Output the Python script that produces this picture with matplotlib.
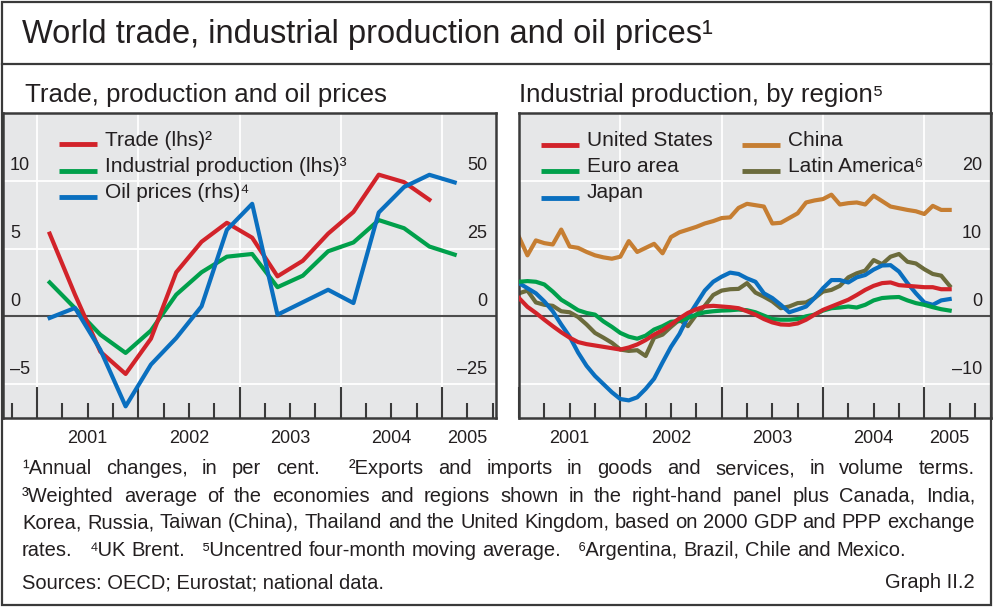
import numpy as np
import matplotlib
matplotlib.use("Agg")
import matplotlib.pyplot as plt
from matplotlib.patches import Rectangle
from matplotlib.lines import Line2D

plt.rcParams['font.family'] = ['Liberation Sans', 'DejaVu Sans']

# ---------------- data ----------------
# Left panel: quarterly, 2001Q1 .. 2005Q1 (annual changes, %)
quarters = ["2001Q1", "2001Q2", "2001Q3", "2001Q4", "2002Q1", "2002Q2", "2002Q3", "2002Q4",
            "2003Q1", "2003Q2", "2003Q3", "2003Q4", "2004Q1", "2004Q2", "2004Q3", "2004Q4", "2005Q1"]
trade = [6.1, 1.6, -2.6, -4.25, -1.65, 3.25, 5.5, 6.9, 5.8, 2.95, 4.1, 6.1, 7.7, 10.45, 9.9, 8.6]
ind_prod = [2.5, 0.6, -1.35, -2.7, -1.05, 1.6, 3.25, 4.4, 4.6, 2.15, 3.0, 4.8, 5.45, 7.1, 6.5, 5.15, 4.55]
oil = [-0.6, 3.1, -12.3, -33.2, -17.8, -8.0, 3.7, 31.9, 41.5, 0.6, 5.2, 9.8, 4.9, 38.3, 47.7, 52.2, 49.4]

# Right panel: monthly, Jan 2001 .. Apr 2005
months = [f"{y}-{m:02d}" for y in range(2001, 2006) for m in range(1, 13)][:52]
us = [2.7, 1.4, 0.5, -0.5, -1.45, -2.35, -3.15, -3.8, -4.1, -4.3, -4.5, -4.7,
      -4.9, -4.6, -4.15, -3.5, -2.7, -2.05, -1.2, -0.3, 0.5, 1.05, 1.45, 1.55,
      1.45, 1.35, 1.2, 0.75, 0.25, -0.4, -0.9, -1.2, -1.25, -1.05, -0.5, 0.25,
      0.95, 1.45, 1.95, 2.45, 3.15, 3.9, 4.5, 4.9, 5.0, 4.6, 4.5, 4.4,
      4.3, 4.3, 4.0, 4.0]
euro = [5.1, 5.2, 5.1, 4.7, 3.65, 2.45, 1.7, 0.9, 0.5, 0.25, -0.75, -1.55,
        -2.45, -3.0, -3.3, -2.85, -1.95, -1.45, -0.8, -0.7, -0.25, 0.25, 0.6, 0.75,
        0.85, 0.9, 1.0, 0.9, 0.6, 0.1, -0.4, -0.5, -0.5, -0.4, 0.0, 0.25,
        0.85, 1.2, 1.3, 1.45, 1.3, 1.7, 2.35, 2.7, 2.8, 2.85, 2.35, 1.95,
        1.7, 1.35, 1.05, 0.85]
japan = [4.9, 4.15, 3.4, 2.2, 0.75, -1.2, -3.0, -5.35, -7.3, -8.8, -10.0, -11.2,
         -12.2, -12.4, -11.95, -10.7, -9.2, -6.8, -4.5, -2.6, -0.1, 1.85, 3.8, 5.1,
         5.85, 6.45, 6.25, 5.6, 5.1, 3.4, 2.7, 1.7, 0.6, 1.0, 1.45, 2.7,
         4.15, 5.35, 5.35, 5.0, 5.75, 6.1, 6.9, 7.5, 7.55, 6.6, 4.9, 3.4,
         2.05, 1.7, 2.35, 2.55]
china = [11.7, 9.0, 11.2, 10.8, 10.6, 12.8, 10.3, 10.1, 9.5, 9.0, 8.7, 8.5,
         8.8, 11.1, 9.5, 10.1, 10.7, 9.3, 11.7, 12.4, 12.8, 13.2, 13.7, 14.05,
         14.5, 14.6, 16.0, 16.6, 16.4, 16.2, 13.7, 13.8, 14.5, 15.2, 16.8, 17.1,
         17.3, 17.95, 16.5, 16.7, 16.8, 16.5, 17.8, 17.0, 16.2, 15.95, 15.7, 15.5,
         15.1, 16.3, 15.7, 15.7]
latam = [3.4, 3.8, 2.05, 1.7, 1.55, 0.75, 0.6, -0.1, -1.2, -2.45, -3.15, -3.9,
         -4.9, -5.1, -5.0, -5.85, -3.15, -2.7, -1.55, -0.5, -1.45, 0.25, 1.55, 3.15,
         3.8, 4.0, 4.05, 4.9, 3.5, 2.9, 2.2, 1.2, 1.45, 1.95, 2.05, 2.7,
         3.65, 3.9, 4.5, 5.75, 6.35, 6.75, 8.3, 7.7, 8.8, 9.2, 8.05, 7.8,
         6.95, 6.25, 6.0, 4.5]

years = [2001, 2002, 2003, 2004, 2005]
year_labels = ["2001", "2002", "2003", "2004", "2005"]
left_lhs_ticks = [-5, 0, 5, 10]
left_rhs_labels = ["\u201325", "0", "25", "50"]
left_lhs_labels = ["\u20135", "0", "5", "10"]
right_ticks = [-10, 0, 10, 20]
right_labels = ["\u201310", "0", "10", "20"]

# ---------------- style ----------------
RED = '#d2232a'
GREEN = '#00a04b'
BLUE = '#0a6fbf'
ORANGE = '#c67e32'
OLIVE = '#6b6b3c'
BG = '#e6e7e8'
FRAME = '#3a3a3a'
TXT = '#231f20'
LW = 3.0

W, H = 995, 607
fig = plt.figure(figsize=(W / 100, H / 100), dpi=100)


def fx(x):
    return x / W


def fy(y):
    return 1 - y / H


def axes_px(x0, y0, x1, y1):
    return fig.add_axes([fx(x0), fy(y1), (x1 - x0) / W, (y1 - y0) / H])


def q_to_x(q):
    return int(q[:4]) + (int(q[-1]) - 0.5) / 4


def m_to_x(m):
    return int(m[:4]) + (int(m[5:]) - 1) / 12


def setup(ax, xlim, ylim, yticks):
    ax.set_facecolor(BG)
    ax.set_xlim(*xlim)
    ax.set_ylim(*ylim)
    for s in ax.spines.values():
        s.set_color(FRAME)
        s.set_linewidth(1.8)
    ax.set_xticks(years)
    qt = [y + k / 4 for y in range(2000, 2006) for k in range(1, 4)]
    qt = [q for q in qt if xlim[0] < q < xlim[1]]
    ax.set_xticks(qt, minor=True)
    ax.tick_params(axis='x', which='major', direction='in', length=22, width=1.5,
                   color=FRAME, labelbottom=False)
    ax.tick_params(axis='x', which='minor', direction='in', length=11, width=1.5,
                   color=FRAME, labelbottom=False)
    ax.set_yticks(yticks)
    ax.tick_params(axis='y', which='both', length=0, labelleft=False, labelright=False)
    ax.grid(True, which='major', color='white', lw=1.3)
    ax.set_axisbelow(True)
    ax.axhline(0, color='#4d4d4d', lw=1.5, zorder=1.5)
    tr = ax.get_xaxis_transform()
    label_x = [y + 0.5 for y in years[:-1]] + [years[-1] + 0.25]
    for x, lab in zip(label_x, year_labels):
        ax.text(x, -0.066, lab, transform=tr, ha='center', va='center',
                fontsize=13, color=TXT, clip_on=False)


def ylabels(ax, ticks, labels, side, dy_px=15):
    for t, lab in zip(ticks, labels):
        if side == 'left':
            ax.annotate(lab, xy=(0, t), xycoords=('axes fraction', 'data'),
                        xytext=(7, dy_px), textcoords='offset pixels',
                        ha='left', va='center', fontsize=13, color=TXT)
        else:
            ax.annotate(lab, xy=(1, t), xycoords=('axes fraction', 'data'),
                        xytext=(-9, dy_px), textcoords='offset pixels',
                        ha='right', va='center', fontsize=13, color=TXT)


# ---------------- left panel ----------------
axL = axes_px(3, 113, 496, 418)
setup(axL, (2000.664, 2005.533), (-7.5, 15), left_lhs_ticks)
qx = [q_to_x(q) for q in quarters]
axL.plot(qx[:len(ind_prod)], ind_prod, color=GREEN, lw=LW, zorder=3)
axL.plot(qx[:len(trade)], trade, color=RED, lw=LW, zorder=4)
ylabels(axL, left_lhs_ticks, left_lhs_labels, 'left')
ylabels(axL, left_lhs_ticks, left_rhs_labels, 'right')

axR2 = axL.twinx()
axR2.set_ylim(-37.5, 75)
axR2.set_yticks([])
for s in axR2.spines.values():
    s.set_visible(False)
axR2.patch.set_visible(False)
axR2.plot(qx[:len(oil)], oil, color=BLUE, lw=LW, zorder=2)

# ---------------- right panel ----------------
axR = axes_px(519, 113, 991, 418)
setup(axR, (2001.0, 2005.658), (-15, 30), right_ticks)
mx = [m_to_x(m) for m in months]
axR.plot(mx, latam, color=OLIVE, lw=LW, zorder=2)
axR.plot(mx, china, color=ORANGE, lw=LW, zorder=2)
axR.plot(mx, japan, color=BLUE, lw=LW, zorder=3)
axR.plot(mx, euro, color=GREEN, lw=LW, zorder=4)
axR.plot(mx, us, color=RED, lw=LW, zorder=5)
ylabels(axR, right_ticks, right_labels, 'right')

# ---------------- legends ----------------
LEG_FS = 15


def legend_entry(x0, x1, y_line, x_text, y_text, color, label):
    fig.add_artist(Line2D([fx(x0), fx(x1)], [fy(y_line), fy(y_line)],
                          transform=fig.transFigure, color=color, lw=LW + 0.5,
                          solid_capstyle='butt'))
    fig.text(fx(x_text), fy(y_text), label, fontsize=LEG_FS, color=TXT,
             ha='left', va='center')


left_leg = [("Trade (lhs)\u00b2", RED), ("Industrial production (lhs)\u00b3", GREEN),
            ("Oil prices (rhs)\u2074", BLUE)]
for i, (lab, c) in enumerate(left_leg):
    legend_entry(59, 97, 144 + 26.5 * i, 105, 140 + 26.5 * i, c, lab)

right_leg = [("United States", RED, 0, 0), ("Euro area", GREEN, 0, 1), ("Japan", BLUE, 0, 2),
             ("China", ORANGE, 1, 0), ("Latin America\u2076", OLIVE, 1, 1)]
for lab, c, col, row in right_leg:
    xo = 541 if col == 0 else 742
    legend_entry(xo, xo + 38, 145 + 26.5 * row, xo + 46, 140 + 26.5 * row, c, lab)

# ---------------- frame & titles ----------------
fig.add_artist(Rectangle((fx(2.5), fy(605)), (991.5 - 2.5) / W, (605 - 1.5) / H,
                         transform=fig.transFigure, fill=False, ec=FRAME, lw=1.6))
fig.add_artist(Line2D([fx(2.5), fx(991.5)], [fy(63.5), fy(63.5)],
                      transform=fig.transFigure, color=FRAME, lw=1.6))
fig.text(fx(22), fy(34), "World trade, industrial production and oil prices\u00b9",
         fontsize=23.5, color=TXT, ha='left', va='center')
fig.text(fx(25), fy(95), "Trade, production and oil prices", fontsize=18.6,
         color=TXT, ha='left', va='center')
fig.text(fx(519), fy(95), "Industrial production, by region\u2075", fontsize=18.6,
         color=TXT, ha='left', va='center')

# ---------------- footnotes (justified) ----------------
foot_lines = [
    "\u00b9Annual changes, in per cent.  \u00b2Exports and imports in goods and services, in volume terms.",
    "\u00b3Weighted average of the economies and regions shown in the right-hand panel plus Canada, India,",
    "Korea, Russia, Taiwan (China), Thailand and the United Kingdom, based on 2000 GDP and PPP exchange",
    "rates.   \u2074UK Brent.   \u2075Uncentred four-month moving average.   \u2076Argentina, Brazil, Chile and Mexico.",
]
foot_y = [469, 496, 523, 550]
FS = 14.5
renderer = fig.canvas.get_renderer()


def text_w(s):
    t = fig.text(0, 0, s, fontsize=FS)
    w = t.get_window_extent(renderer).width
    t.remove()
    return w


space_w = text_w("a a") - text_w("aa")


def draw_line(line, y, justify, x0=22, x1=975):
    words = line.split(' ')
    widths = [text_w(w) if w else 0 for w in words]
    n_gaps = len(words) - 1
    if justify and n_gaps > 0:
        gap = ((x1 - x0) - sum(widths)) / n_gaps
    else:
        gap = space_w
    x = x0
    for w, wd in zip(words, widths):
        if w:
            fig.text(fx(x), fy(y), w, fontsize=FS, color=TXT, ha='left', va='center')
        x += wd + gap


for i, (line, y) in enumerate(zip(foot_lines, foot_y)):
    draw_line(line, y, justify=(i < len(foot_lines) - 1))

fig.text(fx(22), fy(583), "Sources: OECD; Eurostat; national data.", fontsize=FS,
         color=TXT, ha='left', va='center')
fig.text(fx(975), fy(583), "Graph II.2", fontsize=FS, color=TXT, ha='right', va='center')

fig.savefig("out.png", dpi=100)
